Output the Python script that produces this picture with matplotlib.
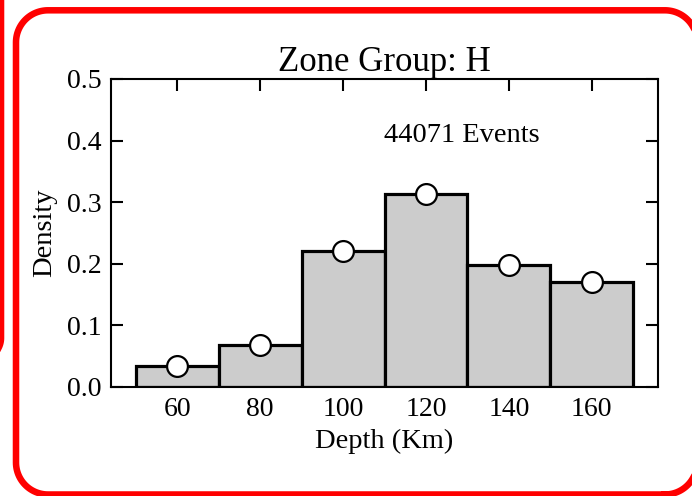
import matplotlib
matplotlib.use("Agg")
import matplotlib.pyplot as plt
import numpy as np

# Data
bin_centers = [60, 80, 100, 120, 140, 160]
densities = [0.034, 0.068, 0.220, 0.313, 0.198, 0.170]
bin_width = 20
title_text = "Zone Group: H"
events_text = "44071 Events"
x_ticks = [60, 80, 100, 120, 140, 160]
y_ticks = [0.0, 0.1, 0.2, 0.3, 0.4, 0.5]

plt.rcParams['font.family'] = ['Liberation Serif', 'DejaVu Serif']

fig = plt.figure(figsize=(6.92, 4.96), dpi=100)


def rounded_rect(x0, y0, x1, y1, r, n=30):
    pts = []
    corners = [((x1 - r, y0 + r), -90, 0), ((x1 - r, y1 - r), 0, 90),
               ((x0 + r, y1 - r), 90, 180), ((x0 + r, y0 + r), 180, 270)]
    for (cx, cy), a0, a1 in corners:
        t = np.radians(np.linspace(a0, a1, n))
        pts.extend(zip(cx + r * np.cos(t), cy + r * np.sin(t)))
    pts.append(pts[0])
    xs, ys = zip(*pts)
    return xs, ys


# background axes in pixel units for the decorative red frames
bg = fig.add_axes([0, 0, 1, 1], zorder=-5)
bg.set_xlim(0, 692)
bg.set_ylim(0, 496)
bg.axis('off')
fx, fy = rounded_rect(16, 1.5, 697, 485.7, 32)
bg.plot(fx, fy, color='#ff0000', lw=4.7, solid_joinstyle='round')
lx, ly = rounded_rect(-200, 136, 1.5, 600, 22)
bg.plot(lx, ly, color='#ff0000', lw=4.0, solid_joinstyle='round')

ax = fig.add_axes([111/692, 1-387/496, (658-111)/692, (387-79)/496])

ax.bar(bin_centers, densities, width=bin_width, color='#cccccc',
       edgecolor='black', linewidth=2.3, zorder=2)
ax.plot(bin_centers, densities, 'o', mfc='white', mec='black', ms=15,
        mew=1.6, zorder=3, clip_on=False)

ax.set_xlim(44, 176)
ax.set_ylim(0, 0.5)
ax.set_xticks(x_ticks)
ax.set_yticks(y_ticks)
ax.set_yticklabels([f"{v:.1f}" for v in y_ticks])
ax.tick_params(direction='in', length=8.5, width=1.5, labelsize=20,
               top=True, right=True, pad=7)
ax.tick_params(axis='x', pad=7)
for s in ax.spines.values():
    s.set_linewidth(1.5)

ax.set_title(title_text, fontsize=25, pad=6)
ax.set_xlabel("Depth (Km)", fontsize=20.5, labelpad=5)
ax.set_ylabel("Density", fontsize=20.5, labelpad=7)
ax.text(0.50, 0.796, events_text, transform=ax.transAxes, fontsize=20.5,
        ha='left', va='baseline')

fig.savefig("out.png", dpi=100)
